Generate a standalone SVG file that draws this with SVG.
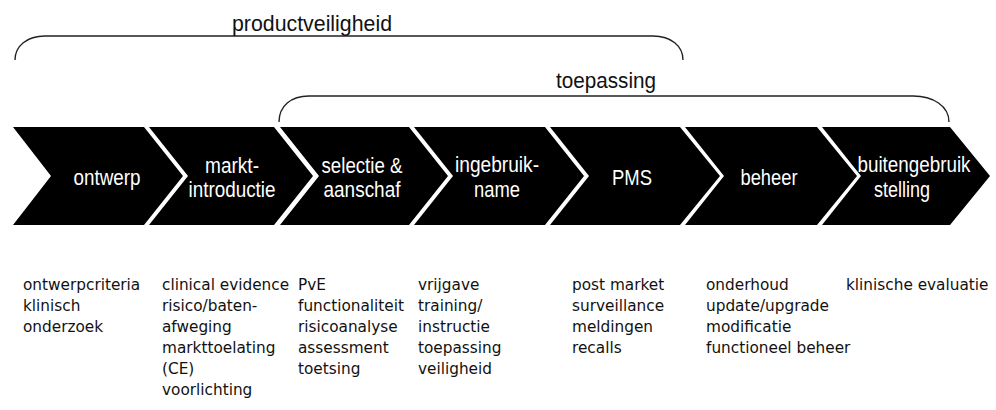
<svg xmlns="http://www.w3.org/2000/svg" width="996" height="410" viewBox="0 0 996 410">
<style>
.chev{fill:#000;}
.lbl{font-family:"Liberation Sans",Arial,sans-serif;font-size:22px;fill:#fff;text-anchor:middle;}
.ttl{font-family:"Liberation Sans",Arial,sans-serif;font-size:22px;fill:#111;text-anchor:middle;}
.lst{font-family:"DejaVu Sans",Verdana,sans-serif;font-size:15.3px;fill:#111;}
.brk{fill:none;stroke:#222;stroke-width:1.4;}
</style>
<rect width="996" height="410" fill="#fff"/>
<g id="connectors">
  <g id="bracket-productveiligheid">
    <path class="brk" d="M15,60 C15,46 27,36 45,36 L653,36 C671,36 683,46 683,60"/>
    <text class="ttl" x="312" y="31" textLength="160" lengthAdjust="spacingAndGlyphs">productveiligheid</text>
  </g>
  <g id="bracket-toepassing">
    <path class="brk" d="M279,122 C279,106 291,96 309,96 L913,96 C933,96 949,106 949,122"/>
    <text class="ttl" x="606" y="88" textLength="100" lengthAdjust="spacingAndGlyphs">toepassing</text>
  </g>
</g>
<g id="node-ontwerp">
  <polygon class="chev" points="13,127 144,127 183,176 144,225 13,225 51,176"/>
  <text class="lbl" x="107" y="185" textLength="67" lengthAdjust="spacingAndGlyphs">ontwerp</text>
  <text class="lst" x="23" y="290">ontwerpcriteria</text>
  <text class="lst" x="23" y="311">klinisch</text>
  <text class="lst" x="23" y="332">onderzoek</text>
</g>
<g id="node-marktintroductie">
  <polygon class="chev" points="149,127 274,127 313,176 274,225 149,225 188,176"/>
  <text class="lbl" x="232" y="173" textLength="54" lengthAdjust="spacingAndGlyphs">markt-</text>
  <text class="lbl" x="232" y="197" textLength="87" lengthAdjust="spacingAndGlyphs">introductie</text>
  <text class="lst" x="162" y="290">clinical evidence</text>
  <text class="lst" x="162" y="311">risico/baten-</text>
  <text class="lst" x="162" y="332">afweging</text>
  <text class="lst" x="162" y="353">markttoelating</text>
  <text class="lst" x="162" y="374">(CE)</text>
  <text class="lst" x="162" y="395">voorlichting</text>
</g>
<g id="node-selectie">
  <polygon class="chev" points="280,127 409,127 448,176 409,225 280,225 319,176"/>
  <text class="lbl" x="362" y="173" textLength="81" lengthAdjust="spacingAndGlyphs">selectie &amp;</text>
  <text class="lbl" x="362" y="197" textLength="77" lengthAdjust="spacingAndGlyphs">aanschaf</text>
  <text class="lst" x="298" y="290">PvE</text>
  <text class="lst" x="298" y="311">functionaliteit</text>
  <text class="lst" x="298" y="332">risicoanalyse</text>
  <text class="lst" x="298" y="353">assessment</text>
  <text class="lst" x="298" y="374">toetsing</text>
</g>
<g id="node-ingebruikname">
  <polygon class="chev" points="414,127 545,127 584,176 545,225 414,225 453,176"/>
  <text class="lbl" x="497" y="172" textLength="84" lengthAdjust="spacingAndGlyphs">ingebruik-</text>
  <text class="lbl" x="497" y="197" textLength="46" lengthAdjust="spacingAndGlyphs">name</text>
  <text class="lst" x="418" y="290">vrijgave</text>
  <text class="lst" x="418" y="311">training/</text>
  <text class="lst" x="418" y="332">instructie</text>
  <text class="lst" x="418" y="353">toepassing</text>
  <text class="lst" x="418" y="374">veiligheid</text>
</g>
<g id="node-pms">
  <polygon class="chev" points="550,127 680,127 720,176 680,225 550,225 589,176"/>
  <text class="lbl" x="632" y="185" textLength="40" lengthAdjust="spacingAndGlyphs">PMS</text>
  <text class="lst" x="572" y="290">post market</text>
  <text class="lst" x="572" y="311">surveillance</text>
  <text class="lst" x="572" y="332">meldingen</text>
  <text class="lst" x="572" y="353">recalls</text>
</g>
<g id="node-beheer">
  <polygon class="chev" points="685,127 817,127 857,176 817,225 685,225 724,176"/>
  <text class="lbl" x="769" y="185" textLength="57" lengthAdjust="spacingAndGlyphs">beheer</text>
  <text class="lst" x="706" y="290">onderhoud</text>
  <text class="lst" x="706" y="311">update/upgrade</text>
  <text class="lst" x="706" y="332">modificatie</text>
  <text class="lst" x="706" y="353">functioneel beheer</text>
</g>
<g id="node-buitengebruikstelling">
  <polygon class="chev" points="822,127 950,127 990,176 950,225 822,225 861,176"/>
  <text class="lbl" x="914" y="172" textLength="113" lengthAdjust="spacingAndGlyphs">buitengebruik</text>
  <text class="lbl" x="902" y="197" textLength="56" lengthAdjust="spacingAndGlyphs">stelling</text>
  <text class="lst" x="846" y="290">klinische evaluatie</text>
</g>
</svg>
